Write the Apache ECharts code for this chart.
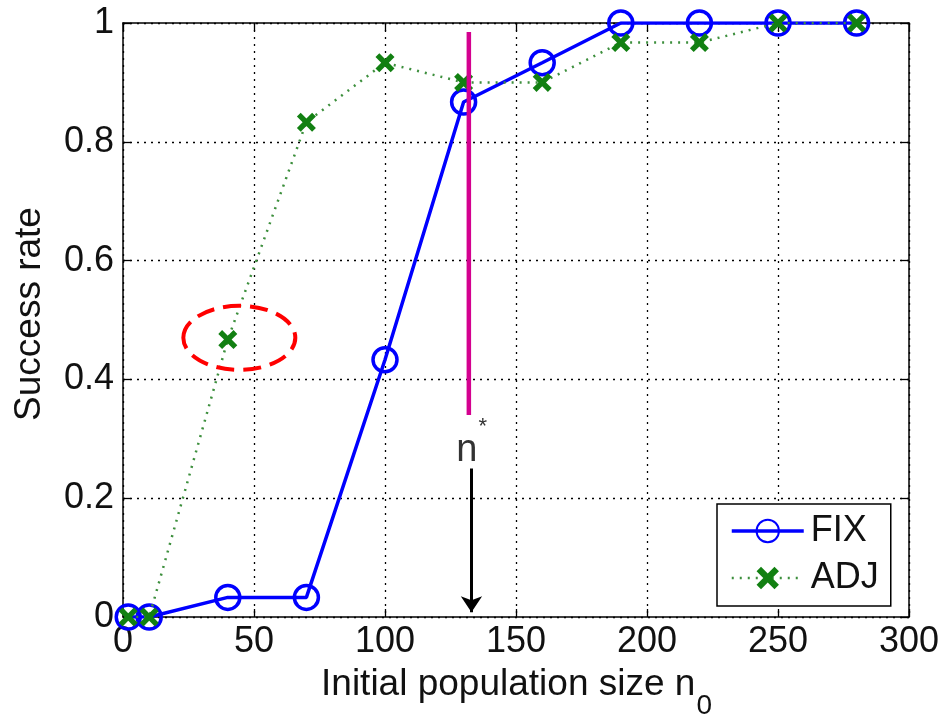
<!DOCTYPE html>
<html>
<head>
<meta charset="utf-8">
<script src="https://cdn.jsdelivr.net/npm/echarts@6/dist/echarts.min.js"></script>
<style>
  html, body { margin: 0; padding: 0; background: #fff; }
  #chart { width: 945px; height: 717px; }
</style>
</head>
<body>
<div id="chart"></div>
<script>
// Initial population size n0 at which each configuration was evaluated
const popSizes = [2, 10, 40, 70, 100, 130, 160, 190, 220, 250, 280];
// Success rates of the two strategies
const fixRate = [0, 0, 0.033, 0.033, 0.433, 0.867, 0.933, 1, 1, 1, 1];
const adjRate = [0, 0, 0.467, 0.833, 0.933, 0.9, 0.9, 0.967, 0.967, 1, 1];
// Critical population size n* and the extent of its marker line
const nStar = 132;
const nStarTop = 0.985;
const nStarBottom = 0.34;
// Arrow pointing down from the n* label to the axis
const arrowX = 133;
const arrowFrom = 0.25;
const arrowTo = 0.008;
// Highlighted ADJ outlier (ellipse centre in data units)
const highlight = [44.4, 0.47];

const FONT = "'Liberation Sans', Arial, sans-serif";
const xPoints = (ys) => popSizes.map((x, i) => [x, ys[i]]);

const chart = echarts.init(document.getElementById('chart'), null, { renderer: 'canvas' });

const gridDash = { color: '#000', width: 1.3, type: [2, 5] };
const tick = { show: true, inside: true, length: 8, lineStyle: { color: '#000', width: 1.3 } };

const xCross = 'path://M0,2L2,0L5,3L8,0L10,2L7,5L10,8L8,10L5,7L2,10L0,8L3,5Z';

chart.setOption({
  animation: false,
  backgroundColor: '#fff',
  grid: { left: 123, right: 36, top: 23, bottom: 100, show: false, containLabel: false, outerBoundsMode: 'none' },
  legend: {
    orient: 'vertical',
    left: 717, top: 504,
    padding: [7, 12, 8, 13],
    itemGap: 7,
    itemWidth: 72, itemHeight: 28,
    backgroundColor: '#fff',
    borderColor: '#000', borderWidth: 1.5,
    textStyle: { fontFamily: FONT, fontSize: 36, lineHeight: 40, color: '#111', padding: [0, 0, 0, 2] },
    data: [
      { name: 'FIX', lineStyle: { width: 3.5 } },
      { name: 'ADJ', lineStyle: { width: 2.5 } }
    ]
  },
  xAxis: [{
    type: 'value', min: 0, max: 300, interval: 50,
    axisLine: { show: true, onZero: false, lineStyle: { color: '#000', width: 1.5 } },
    axisTick: tick,
    axisLabel: { fontFamily: FONT, fontSize: 36, color: '#111', margin: 7 },
    splitLine: { show: true, lineStyle: gridDash }
  }, {
    type: 'value', min: 0, max: 300, interval: 50, position: 'top',
    axisLine: { show: true, onZero: false, lineStyle: { color: '#000', width: 1.5 } },
    axisTick: tick, axisLabel: { show: false }, splitLine: { show: false }
  }],
  yAxis: [{
    type: 'value', min: 0, max: 1, interval: 0.2,
    name: 'Success rate', nameLocation: 'middle', nameGap: 75, nameRotate: 90,
    nameTextStyle: { fontFamily: FONT, fontSize: 37, color: '#111', padding: [0, 0, 0, 12] },
    axisLine: { show: true, onZero: false, lineStyle: { color: '#000', width: 1.5 } },
    axisTick: tick,
    axisLabel: {
      fontFamily: FONT, fontSize: 36, color: '#111', margin: 9,
      formatter: (v) => String(+v.toFixed(1))
    },
    splitLine: { show: true, lineStyle: gridDash }
  }, {
    type: 'value', min: 0, max: 1, interval: 0.2, position: 'right',
    axisLine: { show: true, onZero: false, lineStyle: { color: '#000', width: 1.5 } },
    axisTick: tick, axisLabel: { show: false }, splitLine: { show: false }
  }],
  series: [{
    name: 'FIX', type: 'line',
    data: xPoints(fixRate),
    symbol: 'circle', symbolSize: 24,
    lineStyle: { color: '#0000ff', width: 3.5 },
    itemStyle: { color: 'rgba(255,255,255,0)', borderColor: '#0000ff', borderWidth: 3.5 },
    z: 3
  }, {
    name: 'ADJ', type: 'line',
    data: xPoints(adjRate),
    symbol: xCross, symbolSize: 19,
    lineStyle: { color: '#3d8f3d', width: 2.5, type: [2, 6] },
    itemStyle: { color: '#128012' },
    z: 4
  }, {
    name: 'nStar', type: 'line',
    data: [[nStar, nStarTop], [nStar, nStarBottom]],
    symbol: 'none',
    lineStyle: { color: '#d4008f', width: 4.5 },
    z: 5,
    markLine: {
      silent: true,
      symbol: ['none', 'arrow'],
      symbolSize: 16,
      label: { show: false },
      lineStyle: { color: '#000', width: 3, type: 'solid' },
      data: [[{ coord: [arrowX, arrowFrom] }, { coord: [arrowX, arrowTo] }]]
    }
  }]
});

// Width of a text run, used to place the subscript after the axis title
function textWidth(str, font) {
  const ctx = document.createElement('canvas').getContext('2d');
  ctx.font = font;
  return ctx.measureText(str).width;
}

// Annotations placed in data coordinates, plus the x-axis title with its subscript
function drawAnnotations() {
  const c = chart.convertToPixel({ gridIndex: 0 }, highlight);
  const n = chart.convertToPixel({ gridIndex: 0 }, [nStar, 0.28]);
  const titleFont = '37px ' + FONT;
  const titleText = 'Initial population size n';
  const titleW = textWidth(titleText, titleFont);
  const subW = textWidth('0', '28px ' + FONT);
  const plotMid = chart.convertToPixel({ gridIndex: 0 }, [150, 0])[0];
  const titleLeft = plotMid - (titleW + subW) / 2;
  chart.setOption({
    graphic: [{
      type: 'ellipse',
      shape: { cx: c[0], cy: c[1], rx: 56, ry: 32 },
      style: { fill: 'none', stroke: '#ff0000', lineWidth: 4, lineDash: [18, 9] },
      z: 10
    }, {
      type: 'text',
      x: n[0] - 2, y: n[1],
      style: { text: 'n', font: '38px ' + FONT, fill: '#333', align: 'center', verticalAlign: 'middle' },
      z: 10
    }, {
      type: 'text',
      x: n[0] + 14, y: n[1] - 24,
      style: { text: '*', font: '22px ' + FONT, fill: '#333', align: 'center', verticalAlign: 'middle' },
      z: 10
    }, {
      type: 'text',
      x: titleLeft, y: 685,
      style: { text: titleText, font: titleFont, fill: '#111', align: 'left', verticalAlign: 'middle' },
      z: 10
    }, {
      type: 'text',
      x: titleLeft + titleW + 1, y: 706,
      style: { text: '0', font: '28px ' + FONT, fill: '#111', align: 'left', verticalAlign: 'middle' },
      z: 10
    }]
  });
}
drawAnnotations();
</script>
</body>
</html>
